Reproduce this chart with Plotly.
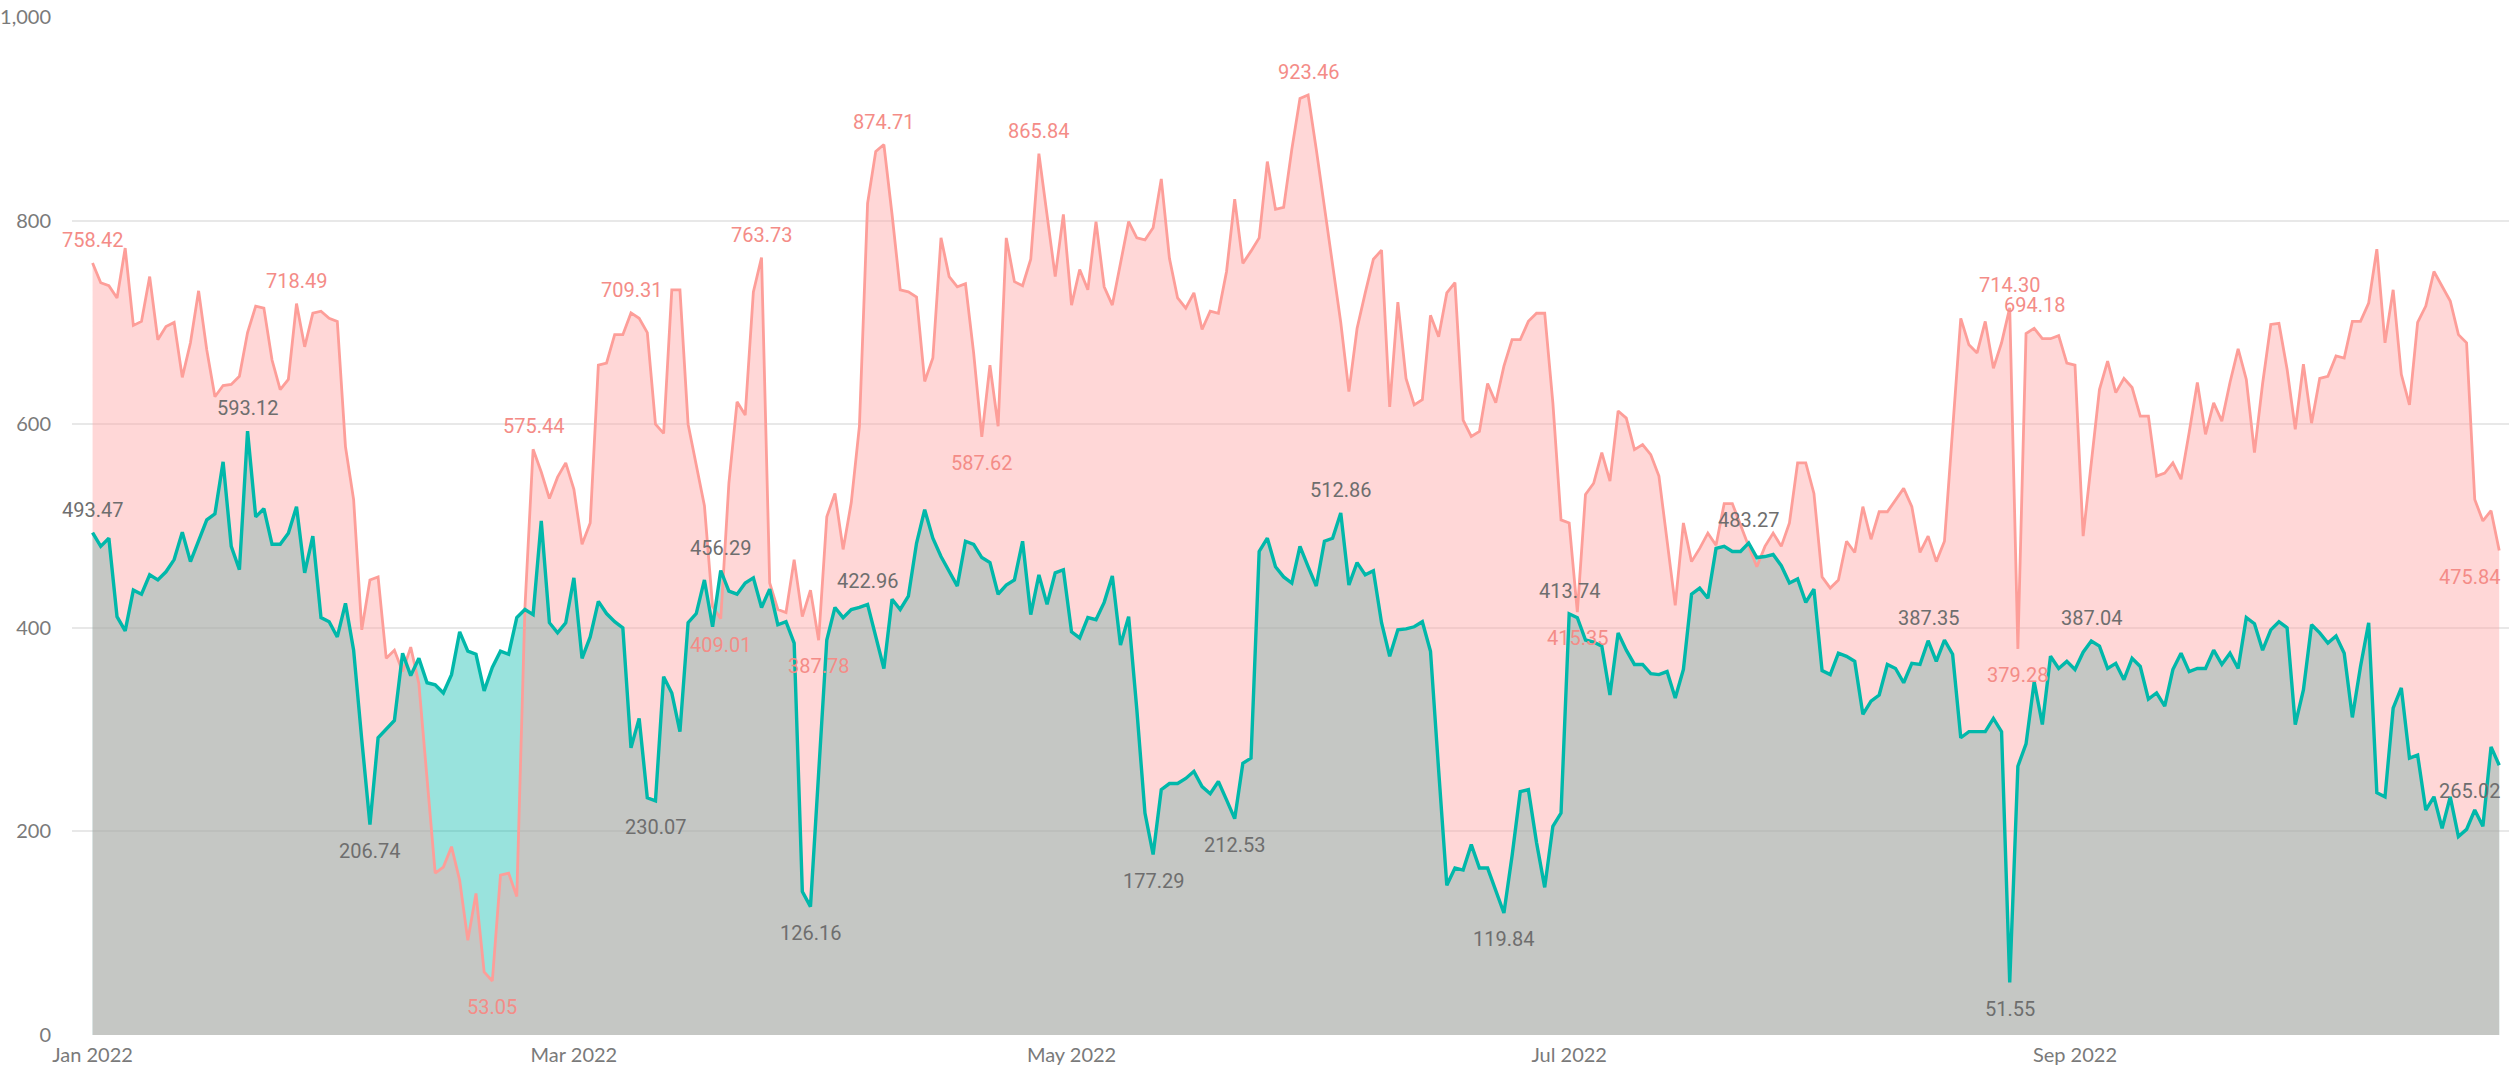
import pandas as pd
import plotly.graph_objects as go

start_date = "2022-01-01"

red_values = [
    758.42, 739, 736, 724, 773, 697, 701, 745, 683, 696,
    700, 646, 680, 731, 673, 627, 638, 639, 647, 690,
    716, 714, 663, 634, 644, 718.49, 676, 709, 711, 704,
    701, 578, 526, 398, 447, 450, 370, 378, 357, 381,
    345, 256, 159, 165, 185, 152, 93, 139, 62, 53.05,
    157, 159, 136, 420, 575.44, 553, 527, 548, 562, 536,
    482, 503, 658, 660, 688, 688, 709.31, 704, 690, 600,
    591, 732, 732, 600, 560, 520, 421, 409.01, 542, 622,
    609, 730, 763.73, 444, 418, 415, 467, 411, 437, 387.78,
    509, 532, 477, 523, 598, 817, 868, 874.71, 806, 732,
    730, 725, 642, 665, 783, 745, 735, 738, 670, 587.62,
    658, 598, 783, 740, 736, 762, 865.84, 806, 745, 806,
    717, 752, 732, 799, 735, 717, 758, 799, 783, 781,
    793, 841, 763, 724, 714, 729, 693, 711, 709, 750,
    821, 758, 770, 783, 858, 811, 813, 870, 920, 923.46,
    870, 815, 760, 700, 632, 694, 729, 762, 771, 617,
    720, 645, 619, 624, 707, 686, 729, 739, 604, 588,
    593, 640, 621, 657, 683, 683, 701, 709, 709, 621,
    506, 503, 415.35, 531, 542, 572, 544, 613, 606, 575,
    580, 570, 549, 486, 422, 503, 465, 478, 493, 481,
    522, 522, 500, 480, 460, 480, 493, 480, 503, 562,
    562, 532, 450, 439, 447, 485, 474, 519, 487, 514,
    514, 526, 537, 519, 474, 490, 465, 485, 590, 704,
    678, 670, 701, 655, 680, 714.30, 379.28, 689, 694.18, 684,
    684, 687, 660, 658, 490, 562, 634, 662, 631, 645,
    636, 608, 608, 549, 552, 562, 546, 592, 641, 590,
    621, 603, 641, 674, 644, 572, 640, 698, 699, 654,
    595, 659, 601, 645, 647, 667, 665, 701, 701, 719,
    772, 680, 732, 649, 619, 700, 716, 750, 735, 721,
    688, 680, 526, 505, 515, 475.84,
]

teal_values = [
    493.47, 480, 488, 411, 397, 437, 433, 452, 447, 455,
    467, 494, 465, 485, 506, 512, 563, 480, 457, 593.12,
    509, 517, 482, 482, 493, 519, 454, 490, 410, 406,
    391, 424, 378, 290, 206.74, 292, 300, 309, 375, 353,
    370, 346, 344, 336, 354, 396, 377, 374, 338, 361,
    377, 374, 410, 418, 413, 505, 405, 395, 405, 449,
    370, 391, 426, 414, 406, 400, 282, 311, 233, 230.07,
    352, 336, 298, 405, 414, 447, 401, 456.29, 436, 433,
    444, 449, 420, 438, 403, 406, 385, 141, 126.16, 255,
    388, 420, 410, 418, 420, 422.96, 391, 360, 428, 418,
    431, 483, 516, 488, 470, 456, 441, 485, 482, 469,
    464, 433, 442, 447, 485, 413, 452, 423, 454, 457,
    396, 390, 410, 408, 425, 451, 383, 411, 320, 218,
    177.29, 241, 247, 247, 252, 259, 244, 237, 249, 231,
    212.53, 267, 272, 475, 488, 460, 450, 444, 480, 460,
    441, 485, 488, 512.86, 442, 464, 452, 456, 405, 372,
    398, 399, 401, 406, 377, 260, 147, 164, 162, 187,
    164, 164, 143, 119.84, 176, 239, 241, 189, 145, 205,
    218, 413.74, 410, 388, 386, 382, 334, 395, 378, 364,
    364, 355, 354, 357, 331, 359, 433, 439, 429, 478,
    480, 475, 475, 483.27, 469, 470, 472, 461, 444, 448,
    425, 438, 358, 354, 375, 372, 367, 315, 328, 334,
    364, 360, 346, 365, 364, 387.35, 367, 388, 374, 292,
    298, 298, 298, 311, 298, 51.55, 264, 286, 347, 305,
    372, 360, 367, 359, 376, 387.04, 382, 360, 365, 349,
    370, 362, 330, 336, 323, 359, 375, 357, 360, 360,
    378, 364, 375, 360, 410, 404, 378, 398, 406, 400,
    305, 339, 403, 395, 385, 392, 375, 312, 362, 405,
    238, 234, 321, 341, 272, 275, 221, 234, 203, 234,
    195, 202, 221, 205, 283, 265.02,
]

red_label_days = [0, 25, 49, 54, 66, 77, 82, 89, 97, 109, 116, 149, 182, 235, 236, 238, 295]
red_label_side = ["up", "up", "down", "up", "up", "down", "up", "down", "up", "down",
                  "up", "up", "down", "up", "down", "up", "down"]
teal_label_days = [0, 19, 34, 69, 77, 88, 95, 130, 140, 153, 173, 181, 203, 225, 235, 245, 295]
teal_label_side = ["up", "up", "down", "down", "up", "down", "up", "down", "down", "up",
                   "down", "up", "up", "up", "down", "up", "down"]

y_ticks = [0, 200, 400, 600, 800, 1000]

dates = pd.date_range(start_date, periods=len(red_values), freq="D")

TEAL = "#01B8AA"
RED_LINE = "#FD9E99"
RED_TEXT = "#F48C87"
GRAY_TEXT = "#6E6E6E"
AXIS_TEXT = "#7A7A7A"

fig = go.Figure()
fig.add_trace(go.Scatter(x=dates, y=teal_values, mode="lines", fill="tozeroy",
                         fillcolor="rgba(1,184,170,0.40)", line=dict(width=0),
                         hoverinfo="skip", showlegend=False))
fig.add_trace(go.Scatter(x=dates, y=red_values, mode="lines", fill="tozeroy",
                         fillcolor="rgba(255,162,162,0.43)", line=dict(width=0),
                         hoverinfo="skip", showlegend=False))
fig.add_trace(go.Scatter(x=dates, y=red_values, mode="lines",
                         line=dict(color=RED_LINE, width=2.8), showlegend=False))
fig.add_trace(go.Scatter(x=dates, y=teal_values, mode="lines",
                         line=dict(color=TEAL, width=3.4), showlegend=False))

annotations = []
def add_labels(days, sides, values, color):
    for d, s in zip(days, sides):
        v = values[d]
        xs = -30 if d == len(values) - 1 else 0
        annotations.append(dict(
            x=dates[d], y=v, xref="x", yref="y", text=f"{v:.2f}", showarrow=False,
            yshift=23 if s == "up" else -26, xshift=xs,
            font=dict(family="Roboto, Liberation Sans, sans-serif", size=20, color=color),
        ))

add_labels(red_label_days, red_label_side, red_values, RED_TEXT)
add_labels(teal_label_days, teal_label_side, teal_values, GRAY_TEXT)

x_start = dates[0] - pd.Timedelta(days=2.52)
x_end = dates[0] + pd.Timedelta(days=296.2)

fig.update_layout(
    width=2509, height=1067,
    margin=dict(l=69, r=0, t=17, b=32),
    paper_bgcolor="white", plot_bgcolor="white",
    annotations=annotations,
    xaxis=dict(type="date", range=[x_start, x_end], tick0=start_date, dtick="M2",
               tickformat="%b %Y", showgrid=False, zeroline=False, showline=False,
               ticks="", ticklabelstandoff=6,
               tickfont=dict(family="Segoe UI, Lato, Open Sans, sans-serif", size=20, color=AXIS_TEXT)),
    yaxis=dict(range=[0, 1000], tickvals=y_ticks, tickformat=",", showgrid=True,
               gridcolor="#E8E8E8", gridwidth=1.5, zeroline=False, showline=False,
               ticks="", ticklabelstandoff=20,
               tickfont=dict(family="Segoe UI, Lato, Open Sans, sans-serif", size=20, color=AXIS_TEXT)),
)

fig.write_html("out.html", config={"displayModeBar": False},
               post_script="document.body.style.margin='0';document.body.style.overflow='hidden';")
